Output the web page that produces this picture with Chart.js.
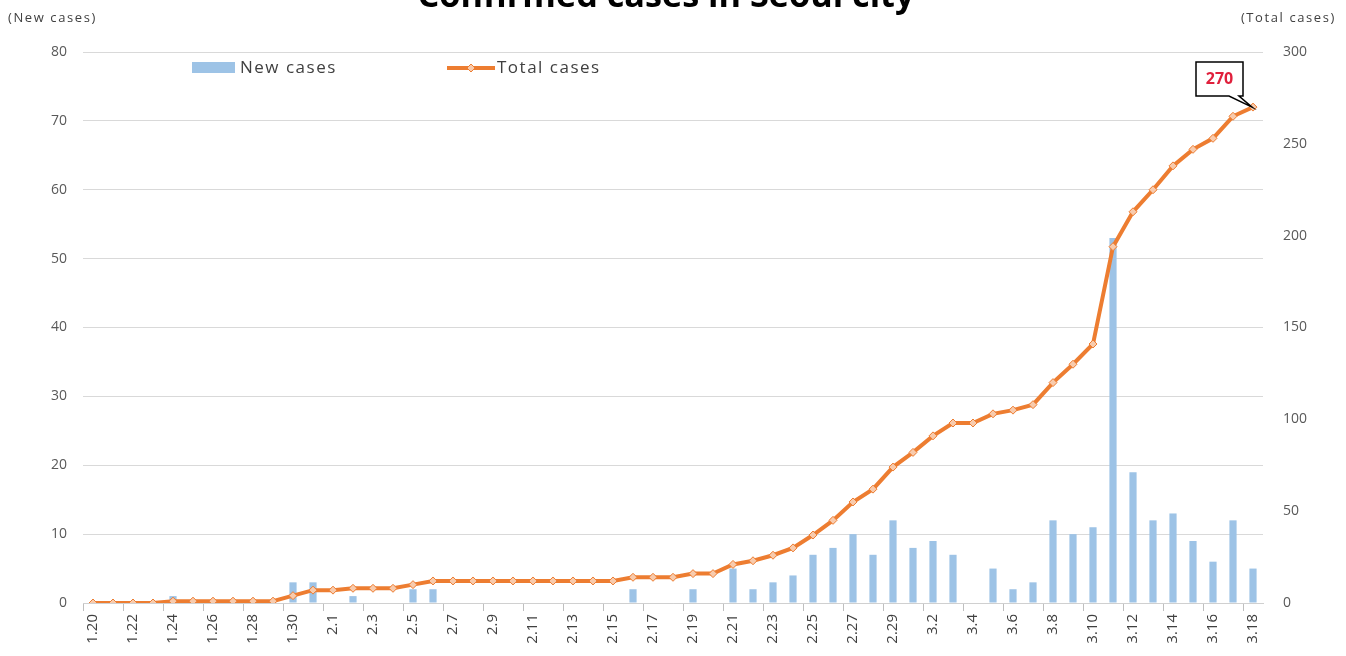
<!DOCTYPE html>
<html>
<head>
<meta charset="utf-8">
<script src="https://cdn.jsdelivr.net/npm/chart.js@4.4.1/dist/chart.umd.min.js"></script>
<style>
html,body{margin:0;padding:0;background:#fff;overflow:hidden}
#wrap{position:relative;width:1346px;height:656px}
</style>
</head>
<body>
<div id="wrap"><canvas id="c" width="1346" height="656"></canvas></div>
<script>
const chartTitle = 'Confirmed cases in Seoul city';
const leftAxisTitle = '(New cases)';
const rightAxisTitle = '(Total cases)';
const seriesNames = ['New cases', 'Total cases'];

const dates = [
  '1.20','1.21','1.22','1.23','1.24','1.25','1.26','1.27','1.28','1.29','1.30','1.31',
  '2.1','2.2','2.3','2.4','2.5','2.6','2.7','2.8','2.9','2.10','2.11','2.12','2.13','2.14','2.15',
  '2.16','2.17','2.18','2.19','2.20','2.21','2.22','2.23','2.24','2.25','2.26','2.27','2.28','2.29',
  '3.1','3.2','3.3','3.4','3.5','3.6','3.7','3.8','3.9','3.10','3.11','3.12','3.13','3.14','3.15',
  '3.16','3.17','3.18'
];

const newCases = [
  0,0,0,0,1,0,0,0,0,0,3,3,
  0,1,0,0,2,2,0,0,0,0,0,0,0,0,0,
  2,0,0,2,0,5,2,3,4,7,8,10,7,12,
  8,9,7,0,5,2,3,12,10,11,53,19,12,13,9,
  6,12,5
];

const totalCases = [
  0,0,0,0,1,1,1,1,1,1,4,7,
  7,8,8,8,10,12,12,12,12,12,12,12,12,12,12,
  14,14,14,16,16,21,23,26,30,37,45,55,62,74,
  82,91,98,98,103,105,108,120,130,141,194,213,225,238,247,
  253,265,270
];

const leftTicks = [0,10,20,30,40,50,60,70,80];
const rightTicks = [0,50,100,150,200,250,300];

const BAR_COLOR = '#9DC3E6';
const LINE_COLOR = '#ED7D31';
const MARKER_FILL = '#F8CBAD';
const TEXT_COLOR = '#595959';
const FONT = '"Open Sans", "DejaVu Sans", sans-serif';

function drawDiamond(ctx, x, y, r){
  ctx.beginPath();
  ctx.moveTo(x, y - r); ctx.lineTo(x + r, y); ctx.lineTo(x, y + r); ctx.lineTo(x - r, y);
  ctx.closePath();
  ctx.fillStyle = MARKER_FILL; ctx.fill();
  ctx.strokeStyle = LINE_COLOR; ctx.lineWidth = 1; ctx.stroke();
}

const decor = {
  id: 'decor',
  afterDraw(chart){
    const ctx = chart.ctx;
    ctx.save();
    // title (top partially clipped as in the reference)
    let fs = 28;
    ctx.font = 'bold ' + fs + 'px ' + FONT;
    const tw = ctx.measureText(chartTitle).width;
    fs = fs * 497 / tw;
    ctx.font = 'bold ' + fs + 'px ' + FONT;
    ctx.fillStyle = '#000';
    ctx.textAlign = 'center';
    ctx.textBaseline = 'alphabetic';
    ctx.fillText(chartTitle, 666, 7);

    // axis titles
    ctx.font = '13px ' + FONT;
    ctx.letterSpacing = '1.6px';
    ctx.fillStyle = '#404040';
    ctx.textBaseline = 'middle';
    ctx.textAlign = 'left';
    ctx.fillText(leftAxisTitle, 8, 18);
    ctx.textAlign = 'right';
    ctx.fillText(rightAxisTitle, 1336, 18);

    // legend
    ctx.fillStyle = BAR_COLOR;
    ctx.fillRect(192, 62, 43, 11);
    ctx.font = '17px ' + FONT;
    ctx.letterSpacing = '1.5px';
    ctx.fillStyle = '#404040';
    ctx.textAlign = 'left';
    ctx.fillText(seriesNames[0], 240, 68);
    ctx.strokeStyle = LINE_COLOR; ctx.lineWidth = 4;
    ctx.beginPath(); ctx.moveTo(447, 68); ctx.lineTo(495, 68); ctx.stroke();
    drawDiamond(ctx, 471, 68, 4);
    ctx.fillStyle = '#404040';
    ctx.fillText(seriesNames[1], 497, 68);
    ctx.letterSpacing = '0px';

    // callout for last total value
    const meta = chart.getDatasetMeta(0);
    const last = meta.data[meta.data.length - 1];
    const px = last.x, py = last.y;
    const bx = px - 57, by = py - 45, bw = 47, bh = 34;
    ctx.fillStyle = '#fff';
    ctx.strokeStyle = '#000';
    ctx.lineWidth = 1.5;
    ctx.beginPath();
    ctx.moveTo(bx, by);
    ctx.lineTo(bx + bw, by);
    ctx.lineTo(bx + bw, by + bh);
    ctx.lineTo(bx + bw - 4, by + bh);
    ctx.lineTo(px - 1, py);
    ctx.lineTo(bx + bw - 14, by + bh);
    ctx.lineTo(bx, by + bh);
    ctx.closePath();
    ctx.fill();
    ctx.stroke();
    ctx.font = 'bold 16px ' + FONT;
    ctx.fillStyle = '#E0203C';
    ctx.textAlign = 'center';
    ctx.textBaseline = 'middle';
    ctx.fillText(String(totalCases[totalCases.length - 1]), bx + bw / 2, by + bh / 2);
    ctx.restore();
  }
};

new Chart(document.getElementById('c'), {
  data: {
    labels: dates,
    datasets: [
      {
        type: 'line',
        label: seriesNames[1],
        data: totalCases,
        yAxisID: 'y1',
        order: 0,
        borderColor: LINE_COLOR,
        borderWidth: 4,
        tension: 0,
        pointStyle: 'rectRot',
        pointRadius: 4,
        pointBackgroundColor: MARKER_FILL,
        pointBorderColor: LINE_COLOR,
        pointBorderWidth: 1
      },
      {
        type: 'bar',
        label: seriesNames[0],
        data: newCases,
        yAxisID: 'y',
        order: 1,
        backgroundColor: BAR_COLOR,
        barPercentage: 0.36,
        categoryPercentage: 1.0
      }
    ]
  },
  options: {
    responsive: false,
    animation: false,
    layout: { padding: { top: 52, left: 0, right: 0, bottom: 0 } },
    plugins: { legend: { display: false }, title: { display: false }, tooltip: { enabled: false } },
    scales: {
      x: {
        type: 'category',
        offset: true,
        afterFit(s){ s.height = 53; },
        grid: {
          display: true,
          offset: true,
          drawOnChartArea: false,
          drawTicks: true,
          tickLength: 8,
          color: c => (c.index % 2 === 0 ? '#BFBFBF' : 'rgba(0,0,0,0)')
        },
        border: { display: true, color: '#D0D0D0' },
        ticks: {
          autoSkip: false,
          minRotation: 90,
          maxRotation: 90,
          padding: 3,
          color: '#404040',
          font: { family: FONT, size: 15 },
          callback: function(v, i){ return i % 2 === 0 ? dates[i] : ''; }
        }
      },
      y: {
        position: 'left',
        min: leftTicks[0],
        max: leftTicks[leftTicks.length - 1],
        afterFit(s){ s.width = 83; },
        afterBuildTicks(s){ s.ticks = leftTicks.map(v => ({ value: v })); },
        grid: { color: '#D9D9D9', drawTicks: false },
        border: { display: false },
        ticks: { padding: 16, color: TEXT_COLOR, font: { family: FONT, size: 14 } }
      },
      y1: {
        position: 'right',
        min: rightTicks[0],
        max: rightTicks[rightTicks.length - 1],
        afterFit(s){ s.width = 83; },
        afterBuildTicks(s){ s.ticks = rightTicks.map(v => ({ value: v })); },
        grid: { drawOnChartArea: false, drawTicks: false },
        border: { display: false },
        ticks: { padding: 20, color: TEXT_COLOR, font: { family: FONT, size: 14 } }
      }
    }
  },
  plugins: [decor]
});
</script>
</body>
</html>
